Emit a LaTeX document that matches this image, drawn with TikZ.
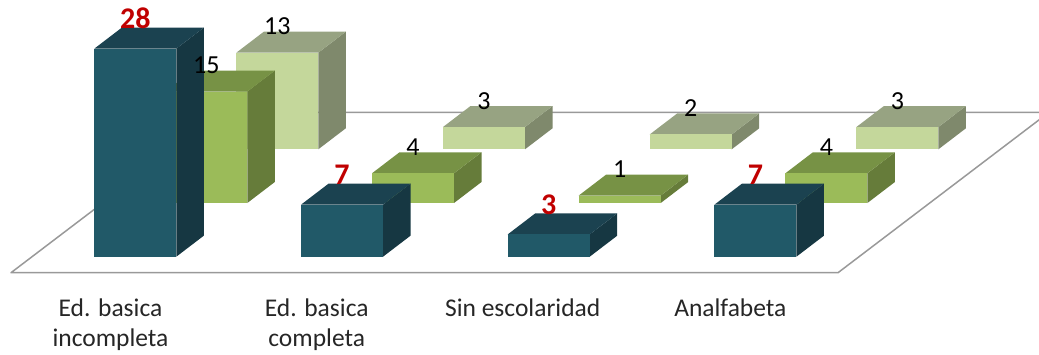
\documentclass[tikz,border=0pt]{standalone}
\usepackage{fontspec}
\setmainfont{Carlito}
\usetikzlibrary{positioning}

\definecolor{azulF}{RGB}{33,89,104}
\definecolor{azulT}{RGB}{27,66,80}
\definecolor{azulL}{RGB}{22,55,66}
\definecolor{verdeF}{RGB}{155,187,89}
\definecolor{verdeT}{RGB}{119,146,69}
\definecolor{verdeL}{RGB}{102,124,58}
\definecolor{claroF}{RGB}{196,215,155}
\definecolor{claroT}{RGB}{151,163,130}
\definecolor{claroL}{RGB}{127,137,108}
\definecolor{rojo}{RGB}{192,0,0}

\tikzset{
  piso/.style={draw=black!40, line width=1.5pt, line join=round},
  valor/.style={anchor=base, inner sep=0pt, font=\fontsize{26}{30}\selectfont},
  destacado/.style={valor, text=rojo, font=\fontsize{30}{34}\selectfont\bfseries},
  categoria/.style={anchor=base, align=center, inner sep=0pt,
    font=\fontsize{25.5}{30.7}\selectfont, text=black!85},
}

% one box: x and y of the front bottom left corner, height, colour prefix
\newcommand{\caja}[4]{%
  \fill[#4L] (#1+82,#2) -- ++(27.5,-21) -- ++(0,-#3) -- ++(-27.5,21) -- cycle;
  \fill[#4T] (#1,#2-#3) -- ++(82,0) -- ++(27.5,-21) -- ++(-82,0) -- cycle;
  \fill[#4F] (#1,#2) rectangle ++(82,-#3);
}

\begin{document}
\begin{tikzpicture}[x=1pt,y=-1pt]
  \useasboundingbox (0,0) rectangle (1039,354);
  \clip (0,0) rectangle (1039,354);

  % floor
  \draw[piso] (11,272.7) -- (838,272.7) -- (1049,112.3) -- (222,112.3) -- cycle;

  % bars, back row first
  \foreach \c/\a/\b/\d in {0/28/15/13, 1/7/4/3, 2/3/1/2, 3/7/4/3} {
    \pgfmathsetmacro\xc{94.3+206.7*\c}
    \caja{\xc+142}{149.3}{7.43*\d}{claro}
    \caja{\xc+71}{203}{7.43*\b}{verde}
    \caja{\xc}{256.7}{7.43*\a}{azul}
  }

  % values
  \foreach \c/\a/\b/\d in {0/28/15/13, 1/7/4/3, 2/3/1/2, 3/7/4/3} {
    \pgfmathsetmacro\xc{94.3+206.7*\c}
    \node[valor] (claro\c) at (\xc+142+41,149.3-7.43*\d-18) {\d};
    \node[valor] (verde\c) at (\xc+71+41,203-7.43*\b-18) {\b};
    \node[destacado] (azul\c) at (\xc+41,256.7-7.43*\a-20) {\a};
  }

  % categories
  \node[categoria] (cat1) at (110.5,346.7) {Ed. basica\\incompleta};
  \node[categoria] (cat2) at (316.7,346.7) {Ed. basica\\completa};
  \node[categoria] (cat3) at (522.7,316) {Sin escolaridad};
  \node[categoria] (cat4) at (730.3,316) {Analfabeta};
\end{tikzpicture}
\end{document}
